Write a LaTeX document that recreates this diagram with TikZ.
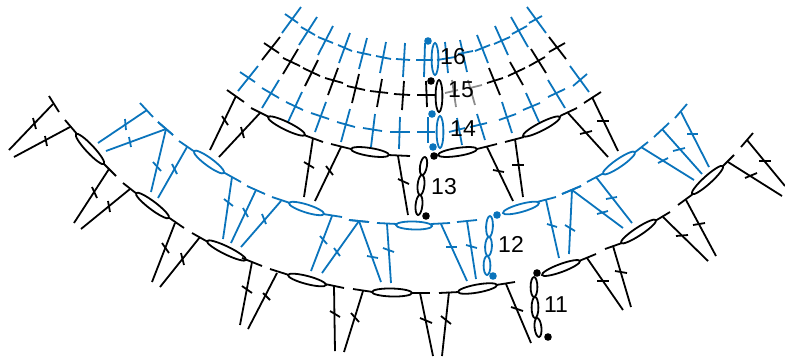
\documentclass[tikz,border=0pt]{standalone}
\usepackage{fontspec}
\setmainfont{Liberation Sans}
\definecolor{chartblue}{HTML}{0A74BC}
\tikzset{
	rowline/.style={line width=1.8pt},
	numlabel/.style={font=\fontsize{23}{27}\selectfont, inner sep=0pt},
	dotmark/.style={radius=3.8},
}

\begin{document}
\begin{tikzpicture}[x=1pt, y=-1pt, every path/.style={rowline}]
	\useasboundingbox (0,0) rectangle (785,360);
	% double stitches: bar, top, foot, tick
	\foreach \ax/\ay/\bx/\by/\tx/\ty/\fx/\fy/\px/\py/\qx/\qy in {
		49/96/59/112/53/104/9/150/33/118/36/129,
		65/120/77/134/70/127/14/157/45/136/47/146,
		103/163/116/176/109/169/74/223/92/187/97/198,
		123/183/137/194/130/189/81/229/108/201/110/212,
		168/217/184/228/175/223/152/282/162/243/169/253,
		192/233/208/242/200/237/160/287/181/253/184/265,
		242/258/262/266/252/262/240/325/242/286/252/293,
		270/269/289/275/277/273/248/329/263/293/270/300,
		325/284/344/288/334/286/335/351/330/311/340/317,
		353/289/373/292/363/291/344/352/351/313/359/322,
		411/293/430/293/420/293/433/356/420/318/432/323,
		439/293/459/292/449/292/442/356/441/316/451/324,
		496/285/515/282/506/284/531/343/511/307/523/311,
		579/261/596/254/587/258/623/310/597/281/609/281,
		605/249/622/243/613/246/631/307/615/271/627/273,
		655/221/670/212/663/217/708/261/676/236/688/235,
		678/205/693/194/686/200/716/256/693/225/705/223,
		722/167/734/155/728/162/782/196/745/178/757/173,
		741/147/753/133/747/140/785/186/759/161/771/161,
		227/90/244/102/236/96/210/150/222/116/228/125,
		251/108/269/117/260/113/219/157/241/127/244/138,
		304/135/323/142/313/138/304/197/304/162/314/168,
		331/144/351/149/341/147/315/201/326/166/333/175,
		388/155/410/156/398/156/408/215/398/179/409/184,
		477/149/497/144/487/147/513/201/493/170/504/172,
		505/142/524/137/515/139/523/197/512/165/524/165,
		560/116/577/108/568/113/608/157/580/134/592/131,
		584/103/601/92/592/97/618/151/597/121/609/121} {
		\draw (\ax,\ay) -- (\bx,\by);
		\draw (\tx,\ty) -- (\fx,\fy);
		\draw (\px,\py) -- (\qx,\qy);
	}
	\foreach \ax/\ay/\bx/\by/\tx/\ty/\fx/\fy/\px/\py/\qx/\qy in {
		140/103/153/117/147/110/98/143/125/119/126/130,
		158/122/173/135/166/129/106/151/129/137/131/147,
		158/122/173/135/166/129/151/192/153/162/161/171,
		179/141/195/152/187/147/158/198/172/164/177/174,
		223/172/241/182/232/177/223/239/224/199/233/206,
		247/186/265/194/256/190/231/243/243/208/248/217,
		272/197/290/203/281/201/241/247/262/214/266/224,
		323/214/342/217/332/216/311/271/320/236/327/244,
		349/220/369/222/359/221/322/273/334/248/340/256,
		349/220/369/222/359/221/381/282/367/256/378/258,
		377/223/397/224/387/224/391/283/383/248/394/252,
		431/224/450/223/441/224/467/281/446/247/457/247,
		457/222/477/220/467/221/476/279/466/245/477/248,
		537/202/556/197/546/200/559/258/547/224/557/227,
		562/194/581/186/572/190/569/254/565/225/575/231,
		562/194/581/186/572/190/623/228/597/214/608/211,
		587/182/604/173/596/177/632/223/606/199/617/197,
		634/153/648/142/641/147/694/180/658/163/668/158,
		654/137/669/123/662/129/702/174/673/151/685/148,
		675/118/687/104/681/112/709/167/687/134/698/134} {
		\draw[chartblue] (\ax,\ay) -- (\bx,\by);
		\draw[chartblue] (\tx,\ty) -- (\fx,\fy);
		\draw[chartblue] (\px,\py) -- (\qx,\qy);
	}
	% crossed stitches: bar, stem
	\foreach \ax/\ay/\bx/\by/\sx/\sy/\ex/\ey in {
		240/72/255/82/258/66/238/91,
		262/88/279/98/279/80/262/108,
		286/102/303/110/302/92/288/122,
		311/113/329/119/326/102/315/132,
		337/122/355/127/350/109/341/142,
		363/128/382/131/375/114/371/147,
		390/132/410/132/400/117/399/149,
		417/132/435/132/428/117/428/143,
		449/132/465/128/457/118/462/145,
		470/127/487/123/477/114/485/140,
		499/120/516/114/502/102/512/133,
		523/110/540/103/526/93/539/122,
		548/97/565/89/548/80/565/108,
		573/86/587/74/570/66/589/92,
		285/14/298/23/301/7/282/33,
		301/27/315/35/317/17/299/45,
		318/37/333/43/333/26/318/55,
		338/45/352/51/350/33/339/63,
		357/52/371/55/367/38/359/69,
		376/56/391/59/386/42/380/73,
		396/59/410/60/405/43/403/77,
		416/60/433/60/425/43/424/77,
		437/60/455/57/445/42/448/73,
		458/54/473/51/460/40/467/72,
		475/51/490/45/477/35/488/63,
		494/44/510/37/495/26/508/55,
		512/34/527/26/511/17/528/47,
		529/23/542/16/527/7/546/33} {
		\draw[chartblue] (\ax,\ay) -- (\bx,\by);
		\draw[chartblue] (\sx,\sy) -- (\ex,\ey);
	}
	\foreach \ax/\ay/\bx/\by/\sx/\sy/\ex/\ey in {
		264/43/279/53/280/37/262/60,
		283/58/300/66/298/49/283/74,
		303/68/320/76/318/60/305/86,
		325/78/343/83/338/68/328/95,
		347/86/365/90/359/74/352/103,
		370/91/388/93/382/79/377/107,
		394/94/410/95/404/81/402/110,
		417/95/436/95/426/81/427/107,
		487/83/503/78/489/68/500/95,
		508/76/525/68/510/62/523/85,
		529/66/545/57/531/49/546/73,
		549/52/565/43/549/37/566/59} {
		\draw (\ax,\ay) -- (\bx,\by);
		\draw (\sx,\sy) -- (\ex,\ey);
	}
	\foreach \ax/\ay/\bx/\by/\sx/\sy/\ex/\ey in {
		445/93/458/90/452/80/456/107,
		470/88/482/85/468/80/475/105} {
		\draw[black!45] (\ax,\ay) -- (\bx,\by);
		\draw[black!45] (\sx,\sy) -- (\ex,\ey);
	}
	% chains
	\foreach \ax/\ay/\bx/\by/\wid in {
		76/134/104/164/4,
		136/193/169/218/4,
		207/241/246/260/4,
		288/275/326/285/4,
		372/292/412/293/4,
		458/292/497/285/4,
		542/275/580/261/4,
		621/243/656/220/4,
		692/194/723/166/4,
		268/117/305/135/4,
		351/149/389/155/4,
		438/155/477/149/4,
		523/136/560/117/4,
		534/277/534/297/3.4,
		535/297/535/318/3.4,
		537/318/539/337/3.4,
		425/157/422/175/3.4,
		422/175/420/195/3.4,
		420/195/418/215/3.4,
		439/80/439/112/3.4} {
		\pgfmathsetmacro\ang{atan2(\ay-\by,\bx-\ax)}
		\pgfmathsetmacro\rad{veclen(\bx-\ax,\by-\ay)/2}
		\draw[shift={({(\ax+\bx)/2},{(\ay+\by)/2})}, rotate=\ang] (0,0) circle[x radius=\rad, y radius=\wid];
	}
	\foreach \ax/\ay/\bx/\by/\wid in {
		194/151/224/173/4,
		289/203/324/214/4,
		396/225/432/226/4,
		503/213/539/203/4,
		603/174/635/152/4,
		490/216/489/237/3.4,
		489/237/488/256/3.4,
		487/256/487/275/3.4,
		435/43/435/75/3.4,
		440/116/440/148/3.4} {
		\pgfmathsetmacro\ang{atan2(\ay-\by,\bx-\ax)}
		\pgfmathsetmacro\rad{veclen(\bx-\ax,\by-\ay)/2}
		\draw[chartblue, shift={({(\ax+\bx)/2},{(\ay+\by)/2})}, rotate=\ang] (0,0) circle[x radius=\rad, y radius=\wid];
	}
	% round marks
	\foreach \x/\y in {537/273,548/337,434/156,426/216,431/81} {\fill[dotmark] (\x,\y) circle;}
	\foreach \x/\y in {497/215,493/276,433/147,432/114,428/41} {\fill[chartblue, dotmark] (\x,\y) circle;}
	% row numbers
	\node[numlabel] (lab11) at (556,305) {11};
	\node[numlabel] (lab12) at (511,244) {12};
	\node[numlabel] (lab13) at (444,187) {13};
	\node[numlabel] (lab14) at (463,129) {14};
	\node[numlabel] (lab15) at (461,90) {15};
	\node[numlabel] (lab16) at (453,57) {16};
\end{tikzpicture}
\end{document}
